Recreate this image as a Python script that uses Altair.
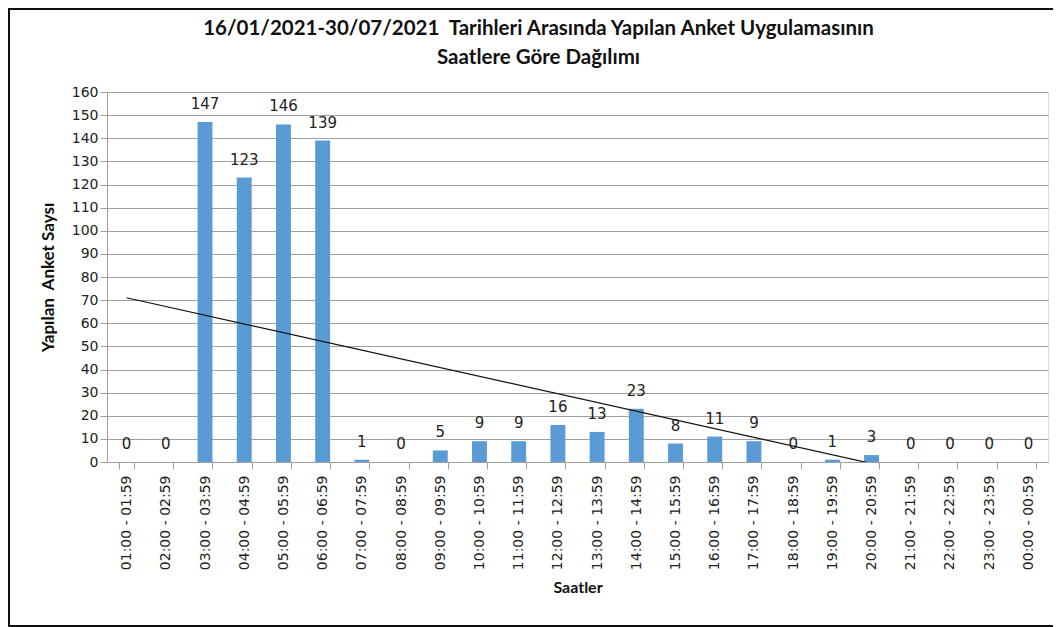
import altair as alt
import pandas as pd

hours = ["01:00 - 01:59", "02:00 - 02:59", "03:00 - 03:59", "04:00 - 04:59",
         "05:00 - 05:59", "06:00 - 06:59", "07:00 - 07:59", "08:00 - 08:59",
         "09:00 - 09:59", "10:00 - 10:59", "11:00 - 11:59", "12:00 - 12:59",
         "13:00 - 13:59", "14:00 - 14:59", "15:00 - 15:59", "16:00 - 16:59",
         "17:00 - 17:59", "18:00 - 18:59", "19:00 - 19:59", "20:00 - 20:59",
         "21:00 - 21:59", "22:00 - 22:59", "23:00 - 23:59", "00:00 - 00:59"]
counts = [0, 0, 147, 123, 146, 139, 1, 0, 5, 9, 9, 16,
          13, 23, 8, 11, 9, 0, 1, 3, 0, 0, 0, 0]
idx = list(range(1, len(hours) + 1))
y_ticks = list(range(0, 161, 10))

df = pd.DataFrame({"hour": hours, "count": counts, "idx": idx})

W, H = 941, 370
LABEL_FONT = "DejaVu Sans"
TITLE_FONT = "Lato"
NB = "\u00a0"

xenc = alt.X("hour:N", sort=hours,
             scale=alt.Scale(paddingInner=0.62, paddingOuter=0.31),
             axis=alt.Axis(title="Saatler", labelAngle=-90, tickBand="extent",
                           labelFont=LABEL_FONT, labelFontSize=14, labelColor="#222222",
                           labelPadding=6, titleFont=TITLE_FONT, titleFontSize=16,
                           titleFontWeight="bold", titleColor="#111111", titlePadding=10,
                           domainColor="#a0a0a0", tickColor="#a0a0a0", tickSize=7,
                           grid=False))
yenc = alt.Y("count:Q", scale=alt.Scale(domain=[0, 160], nice=False),
             axis=alt.Axis(title=f"Yapılan{NB}{NB}Anket{NB}Saysı", values=y_ticks,
                           labelOverlap=False,
                           labelFont=LABEL_FONT, labelFontSize=14, labelColor="#222222",
                           titleFont=TITLE_FONT, titleFontSize=17, titleFontWeight="bold",
                           titleColor="#111111", titlePadding=14,
                           domainColor="#a0a0a0", tickColor="#a0a0a0", tickSize=7,
                           gridColor="#a0a0a0", gridWidth=1.2))

base = alt.Chart(df)

bars = base.mark_bar(color="#5b9bd5").encode(x=xenc, y=yenc)

labels = base.mark_text(font=LABEL_FONT, fontSize=15, color="#222222",
                        baseline="middle", dy=-18).encode(
    x=xenc, y=yenc, text="count:Q")

trend = base.transform_regression("idx", "count").transform_lookup(
    lookup="idx",
    from_=alt.LookupData(data=df, key="idx", fields=["hour"])
).mark_line(color="#111111", strokeWidth=1.2, clip=True).encode(x=xenc, y=yenc)

border = base.mark_rect(fill=None, stroke="#111111", strokeWidth=1.6).encode(
    x=alt.value(-98), x2=alt.value(W + 40), y=alt.value(-83), y2=alt.value(H + 164))

chart = alt.layer(bars, trend, labels, border).properties(
    width=W, height=H,
    title=alt.TitleParams(
        text=[f"16/01/2021-30/07/2021{NB}{NB}Tarihleri Arasında Yapılan Anket Uygulamasının",
              "Saatlere Göre Dağılımı"],
        font=TITLE_FONT, fontSize=20.5, fontWeight="bold", color="#111111",
        anchor="middle", frame="group", dx=-39, offset=0, dy=60, lineHeight=29),
    autosize=alt.AutoSizeParams(type="none"),
    padding={"left": 99, "top": 84, "right": 5, "bottom": 165},
).configure_view(stroke=None).configure(background="white")

chart.save("out.html", embed_options={"renderer": "svg", "actions": False})
